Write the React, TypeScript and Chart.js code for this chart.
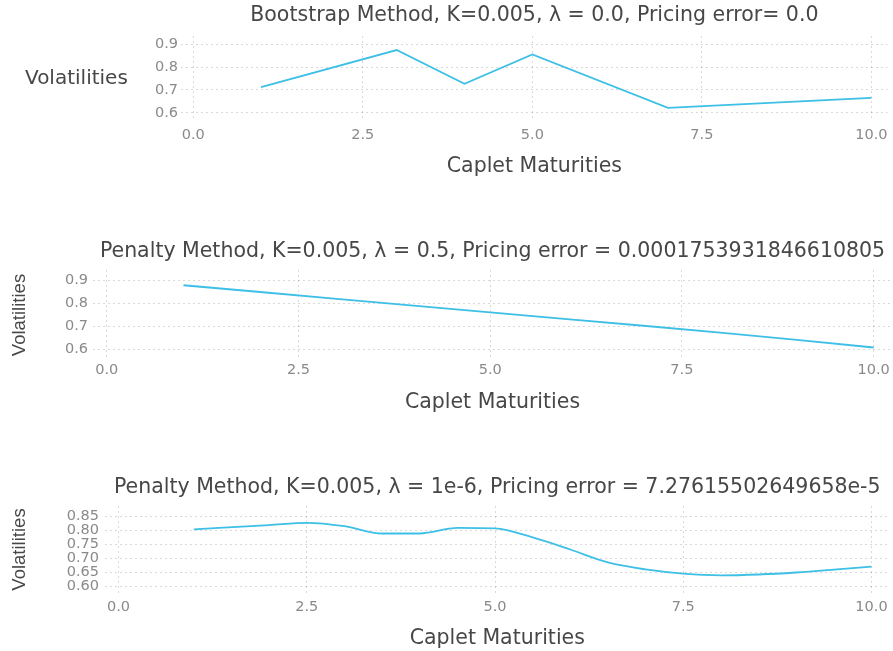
import React, { useEffect, useRef } from "react";
import { Chart, registerables } from "chart.js";

Chart.register(...registerables);

// ---- data ----
const bootstrapMaturities = [1, 3, 4, 5, 7, 10];
const bootstrapVols = [0.712, 0.874, 0.727, 0.855, 0.622, 0.666];

const penaltyMaturities = [1, 2, 3, 4, 5, 6, 7, 8, 9, 10];
const penaltyVols = [0.878, 0.849, 0.819, 0.79, 0.761, 0.732, 0.703, 0.673, 0.642, 0.609];

const smallLambdaMaturities = [1, 2, 2.5, 3, 3.5, 4, 4.5, 5, 5.5, 6, 6.5, 7, 7.5, 8, 8.5, 9, 9.5, 10];
const smallLambdaVols = [0.804, 0.819, 0.827, 0.815, 0.789, 0.789, 0.809, 0.807, 0.775, 0.732, 0.686, 0.661, 0.646, 0.64, 0.643, 0.65, 0.66, 0.671];

const xTickValues = [0, 2.5, 5, 7.5, 10];
const yTicksTenths = [0.6, 0.7, 0.8, 0.9];
const yTicksHundredths = [0.6, 0.65, 0.7, 0.75, 0.8, 0.85];

const title1 = "Bootstrap Method, K=0.005, \u03bb = 0.0, Pricing error= 0.0";
const title2 = "Penalty Method, K=0.005, \u03bb = 0.5, Pricing error = 0.0001753931846610805";
const title3 = "Penalty Method, K=0.005, \u03bb = 1e-6, Pricing error = 7.27615502649658e-5";
const xLabel = "Caplet Maturities";
const yLabel = "Volatilities";

const LINE_COLOR = "#3dbfe6";
const TEXT_COLOR = "#474747";
const TICK_COLOR = "#8a8a8a";
const GRID_COLOR = "rgba(0,0,0,0.15)";
const W = 893;

type Panel = {
  top: number;
  height: number;
  left: number;
  right: number;
  chartTop: number;
  chartBottom: number;
  titleCenter: number;
  tickCenter: number;
  xTitleCenter: number;
  yTickPad: number;
  title: string;
  xs: number[];
  ys: number[];
  yTicks: number[];
  yDecimals: number;
  yMin: number;
  yMax: number;
  horizontalYLabel: boolean;
  smooth: boolean;
};

const panels: Panel[] = [
  {
    top: 0, height: 183, left: 181, right: 892, chartTop: 36, chartBottom: 121,
    titleCenter: 16, tickCenter: 135, xTitleCenter: 167, yTickPad: 3,
    title: title1, xs: bootstrapMaturities, ys: bootstrapVols, yTicks: yTicksTenths, yDecimals: 1,
    yMin: 0.565, yMax: 0.935, horizontalYLabel: true, smooth: false,
  },
  {
    top: 230, height: 189, left: 93, right: 892, chartTop: 40, chartBottom: 130,
    titleCenter: 22, tickCenter: 140, xTitleCenter: 173, yTickPad: 5,
    title: title2, xs: penaltyMaturities, ys: penaltyVols, yTicks: yTicksTenths, yDecimals: 1,
    yMin: 0.555, yMax: 0.944, horizontalYLabel: false, smooth: false,
  },
  {
    top: 460, height: 191, left: 105, right: 892, chartTop: 46, chartBottom: 133,
    titleCenter: 28, tickCenter: 147, xTitleCenter: 179, yTickPad: 6,
    title: title3, xs: smallLambdaMaturities, ys: smallLambdaVols, yTicks: yTicksHundredths, yDecimals: 2,
    yMin: 0.577, yMax: 0.887, horizontalYLabel: false, smooth: true,
  },
];

const TITLE_SIZE = 20.5;
const TITLE_LH = TITLE_SIZE * 1.2;
const TICK_SIZE = 14.5;
const TICK_LH = TICK_SIZE * 1.2;
const YTITLE_SIZE = 18.5;
const YTITLE_LH = YTITLE_SIZE * 1.2;

function PanelChart({ p }: { p: Panel }) {
  const ref = useRef<HTMLCanvasElement | null>(null);
  useEffect(() => {
    if (!ref.current) return;
    const titlePadTop = p.titleCenter - TITLE_LH / 2;
    const titlePadBottom = p.chartTop - titlePadTop - TITLE_LH;
    const xTickPad = p.tickCenter - p.chartBottom - TICK_LH / 2;
    const xTitlePadBottom = Math.max(0, p.height - p.xTitleCenter - TITLE_LH / 2);

    const horizLabel = {
      id: "horizYLabel",
      afterDraw(chart: any) {
        if (!p.horizontalYLabel) return;
        const ctx = chart.ctx;
        const area = chart.chartArea;
        ctx.save();
        ctx.font = `${TITLE_SIZE - 0.5}px "DejaVu Sans"`;
        ctx.fillStyle = TEXT_COLOR;
        ctx.textAlign = "left";
        ctx.textBaseline = "middle";
        ctx.fillText(yLabel, 25, (area.top + area.bottom) / 2);
        ctx.restore();
      },
    };

    const chart = new Chart(ref.current, {
      type: "line",
      data: {
        datasets: [
          {
            data: p.xs.map((x, i) => ({ x, y: p.ys[i] })),
            borderColor: LINE_COLOR,
            borderWidth: 1.8,
            pointRadius: 0,
            fill: false,
            tension: 0,
            cubicInterpolationMode: p.smooth ? "monotone" : "default",
          } as any,
        ],
      },
      options: {
        animation: false,
        responsive: false,
        devicePixelRatio: 1,
        layout: { padding: { left: 0, right: W - p.right, top: 0, bottom: 0 } },
        plugins: {
          legend: { display: false },
          tooltip: { enabled: false },
          title: {
            display: true,
            text: p.title,
            fullSize: false,
            color: TEXT_COLOR,
            font: { family: "DejaVu Sans", size: TITLE_SIZE, weight: "normal", lineHeight: 1.2 },
            padding: { top: titlePadTop, bottom: titlePadBottom },
          },
        },
        scales: {
          x: {
            type: "linear",
            min: -0.18,
            max: 10.24,
            afterBuildTicks: (axis: any) => {
              axis.ticks = xTickValues.map((v) => ({ value: v }));
            },
            afterFit: (axis: any) => {
              axis.height = p.height - p.chartBottom;
            },
            grid: { color: GRID_COLOR, lineWidth: 1, drawTicks: false },
            border: { display: false, dash: [2, 3] },
            ticks: {
              autoSkip: false,
              maxRotation: 0,
              padding: xTickPad,
              color: TICK_COLOR,
              font: { family: "DejaVu Sans", size: TICK_SIZE, lineHeight: 1.2 },
              callback: (v: any) => Number(v).toFixed(1),
            },
            title: {
              display: true,
              text: xLabel,
              color: TEXT_COLOR,
              font: { family: "DejaVu Sans", size: TITLE_SIZE, lineHeight: 1.2 },
              padding: { top: 0, bottom: xTitlePadBottom },
            },
          },
          y: {
            type: "linear",
            min: p.yMin,
            max: p.yMax,
            afterBuildTicks: (axis: any) => {
              axis.ticks = p.yTicks.map((v) => ({ value: v }));
            },
            afterFit: (axis: any) => {
              axis.width = p.left;
            },
            grid: { color: GRID_COLOR, lineWidth: 1, drawTicks: false },
            border: { display: false, dash: [2, 3] },
            ticks: {
              autoSkip: false,
              padding: p.yTickPad,
              color: TICK_COLOR,
              font: { family: "DejaVu Sans", size: TICK_SIZE, lineHeight: 1.2 },
              callback: (v: any) => Number(v).toFixed(p.yDecimals),
            },
            title: {
              display: !p.horizontalYLabel,
              text: yLabel,
              color: TEXT_COLOR,
              font: { family: "Liberation Sans", size: YTITLE_SIZE, lineHeight: 1.2 },
              padding: { top: 20 - YTITLE_LH / 2, bottom: 0 },
            },
          },
        },
      },
      plugins: [horizLabel],
    } as any);
    return () => chart.destroy();
  }, [p]);

  return (
    <div style={{ position: "absolute", left: 0, top: p.top, width: W, height: p.height }}>
      <canvas ref={ref} width={W} height={p.height} style={{ width: W, height: p.height, display: "block" }} />
    </div>
  );
}

export default function App() {
  return (
    <div
      style={{
        position: "absolute",
        left: 0,
        top: 0,
        width: W,
        height: 651,
        overflow: "hidden",
        background: "#ffffff",
      }}
    >
      {panels.map((p, i) => (
        <PanelChart key={i} p={p} />
      ))}
    </div>
  );
}
